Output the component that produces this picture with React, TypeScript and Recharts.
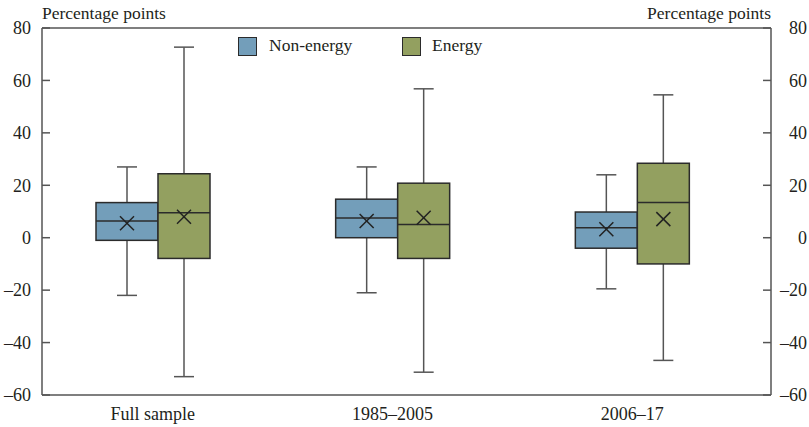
import { ComposedChart, Bar, XAxis, YAxis, ReferenceLine } from "recharts";

const categories = ["Full sample", "1985–2005", "2006–17"];

// Non-energy box stats
const nonEnergyMin = [-22, -21, -19.5];
const nonEnergyQ1 = [-1, 0, -4];
const nonEnergyMedian = [6.4, 7.5, 3.8];
const nonEnergyQ3 = [13.4, 14.7, 9.8];
const nonEnergyMax = [27, 27, 24];
const nonEnergyMean = [5.5, 6.4, 3.2];

// Energy box stats
const energyMin = [-53, -51.3, -46.8];
const energyQ1 = [-7.9, -7.9, -10];
const energyMedian = [9.5, 5, 13.4];
const energyQ3 = [24.4, 20.8, 28.4];
const energyMax = [72.7, 56.8, 54.5];
const energyMean = [8, 7.6, 7.1];

const yTicks = [-60, -40, -20, 0, 20, 40, 60, 80];

const BLUE = "#739eba";
const GREEN = "#93a060";
const EDGE = "#2b2b2b";
const AXIS = "#555";
const TEXT = "#231f20";
const FONT = "Liberation Serif, serif";

const rows = categories.map((name, i) => ({
  name,
  ne: [nonEnergyQ1[i], nonEnergyQ3[i]],
  neStats: {
    min: nonEnergyMin[i], q1: nonEnergyQ1[i], med: nonEnergyMedian[i],
    q3: nonEnergyQ3[i], max: nonEnergyMax[i], mean: nonEnergyMean[i],
  },
  en: [energyQ1[i], energyQ3[i]],
  enStats: {
    min: energyMin[i], q1: energyQ1[i], med: energyMedian[i],
    q3: energyQ3[i], max: energyMax[i], mean: energyMean[i],
  },
}));

// box drawn from the range bar's own geometry (q1..q3), other stats scaled from it
const makeBox = (key: "ne" | "en", color: string) => (props: any) => {
  const { x, y, width, height, payload } = props;
  const s = payload[key + "Stats"];
  const top = Math.min(y, y + height);
  const h = Math.abs(height);
  const k = h / (s.q3 - s.q1);
  const py = (v: number) => top + (s.q3 - v) * k;
  const cx = x + width / 2;
  const cap = 10;
  const my = py(s.mean);
  const m = 7;
  return (
    <g>
      <line x1={cx} x2={cx} y1={py(s.max)} y2={top} stroke={AXIS} strokeWidth={1.5} />
      <line x1={cx - cap} x2={cx + cap} y1={py(s.max)} y2={py(s.max)} stroke={AXIS} strokeWidth={1.5} />
      <line x1={cx} x2={cx} y1={top + h} y2={py(s.min)} stroke={AXIS} strokeWidth={1.5} />
      <line x1={cx - cap} x2={cx + cap} y1={py(s.min)} y2={py(s.min)} stroke={AXIS} strokeWidth={1.5} />
      <rect x={x} y={top} width={width} height={h} fill={color} stroke={EDGE} strokeWidth={1.5} />
      <line x1={x} x2={x + width} y1={py(s.med)} y2={py(s.med)} stroke={EDGE} strokeWidth={1.5} />
      <line x1={cx - m} x2={cx + m} y1={my - m} y2={my + m} stroke="#222" strokeWidth={1.5} />
      <line x1={cx - m} x2={cx + m} y1={my + m} y2={my - m} stroke="#222" strokeWidth={1.5} />
    </g>
  );
};

const fmt = (v: number) => (v < 0 ? `–${Math.abs(v)}` : `${v}`);

const LeftTick = (props: any) => {
  const { x, y, payload } = props;
  return (
    <text x={x - 19} y={y} dy="0.35em" textAnchor="end" fill={TEXT} fontSize={18} style={{ fontFamily: FONT }}>
      {fmt(payload.value)}
    </text>
  );
};

const RightTick = (props: any) => {
  const { x, y, payload } = props;
  return (
    <text x={x + 44} y={y} dy="0.35em" textAnchor="end" fill={TEXT} fontSize={18} style={{ fontFamily: FONT }}>
      {fmt(payload.value)}
    </text>
  );
};

const CatTick = (props: any) => {
  const { x, y, payload } = props;
  return (
    <text x={x} y={y + 25} textAnchor="middle" fill={TEXT} fontSize={18} style={{ fontFamily: FONT }}>
      {payload.value}
    </text>
  );
};

const label = (extra: any) => ({
  position: "absolute" as const,
  fontFamily: FONT,
  color: TEXT,
  lineHeight: 1,
  whiteSpace: "nowrap" as const,
  ...extra,
});

const swatch = (left: number, color: string) => ({
  position: "absolute" as const,
  left,
  top: 37,
  width: 17,
  height: 17,
  background: color,
  border: `1.5px solid ${EDGE}`,
});

export default function App() {
  return (
    <div style={{ position: "absolute", left: 0, top: 0, width: 809, height: 427, background: "#fff" }}>
      <ComposedChart
        width={809}
        height={427}
        data={rows}
        margin={{ top: 28, right: 0, bottom: 0, left: 0 }}
        barGap={0}
      >
        <XAxis
          dataKey="name"
          height={32}
          padding={{ left: -9, right: 19 }}
          tickLine={false}
          tickSize={0}
          tickMargin={0}
          axisLine={{ stroke: AXIS, strokeWidth: 1.5 }}
          tick={<CatTick />}
        />
        <YAxis
          yAxisId="left"
          type="number"
          domain={[-60, 80]}
          ticks={yTicks}
          allowDataOverflow
          width={42}
          tickSize={-8}
          tickMargin={0}
          axisLine={{ stroke: AXIS, strokeWidth: 1.5 }}
          tickLine={{ stroke: AXIS, strokeWidth: 1.5 }}
          tick={<LeftTick />}
        />
        <YAxis
          yAxisId="right"
          orientation="right"
          type="number"
          domain={[-60, 80]}
          ticks={yTicks}
          allowDataOverflow
          width={38}
          tickSize={-8}
          tickMargin={0}
          axisLine={{ stroke: AXIS, strokeWidth: 1.5 }}
          tickLine={{ stroke: AXIS, strokeWidth: 1.5 }}
          tick={<RightTick />}
        />
        <ReferenceLine yAxisId="left" y={80} stroke={AXIS} strokeWidth={1.5} />
        <Bar yAxisId="left" dataKey="ne" name="Non-energy" barSize={62} fill={BLUE}
          shape={makeBox("ne", BLUE)} isAnimationActive={false} />
        <Bar yAxisId="left" dataKey="en" name="Energy" barSize={52} fill={GREEN}
          shape={makeBox("en", GREEN)} isAnimationActive={false} />
      </ComposedChart>

      <div style={label({ left: 42, top: 5.3, fontSize: 17.5 })}>Percentage points</div>
      <div style={label({ right: 809 - 771, top: 5.3, fontSize: 17.5 })}>Percentage points</div>

      <div style={swatch(238, BLUE)} />
      <div style={label({ left: 269, top: 37, fontSize: 17.5 })}>Non-energy</div>
      <div style={swatch(402, GREEN)} />
      <div style={label({ left: 432, top: 37, fontSize: 17.5 })}>Energy</div>
    </div>
  );
}
